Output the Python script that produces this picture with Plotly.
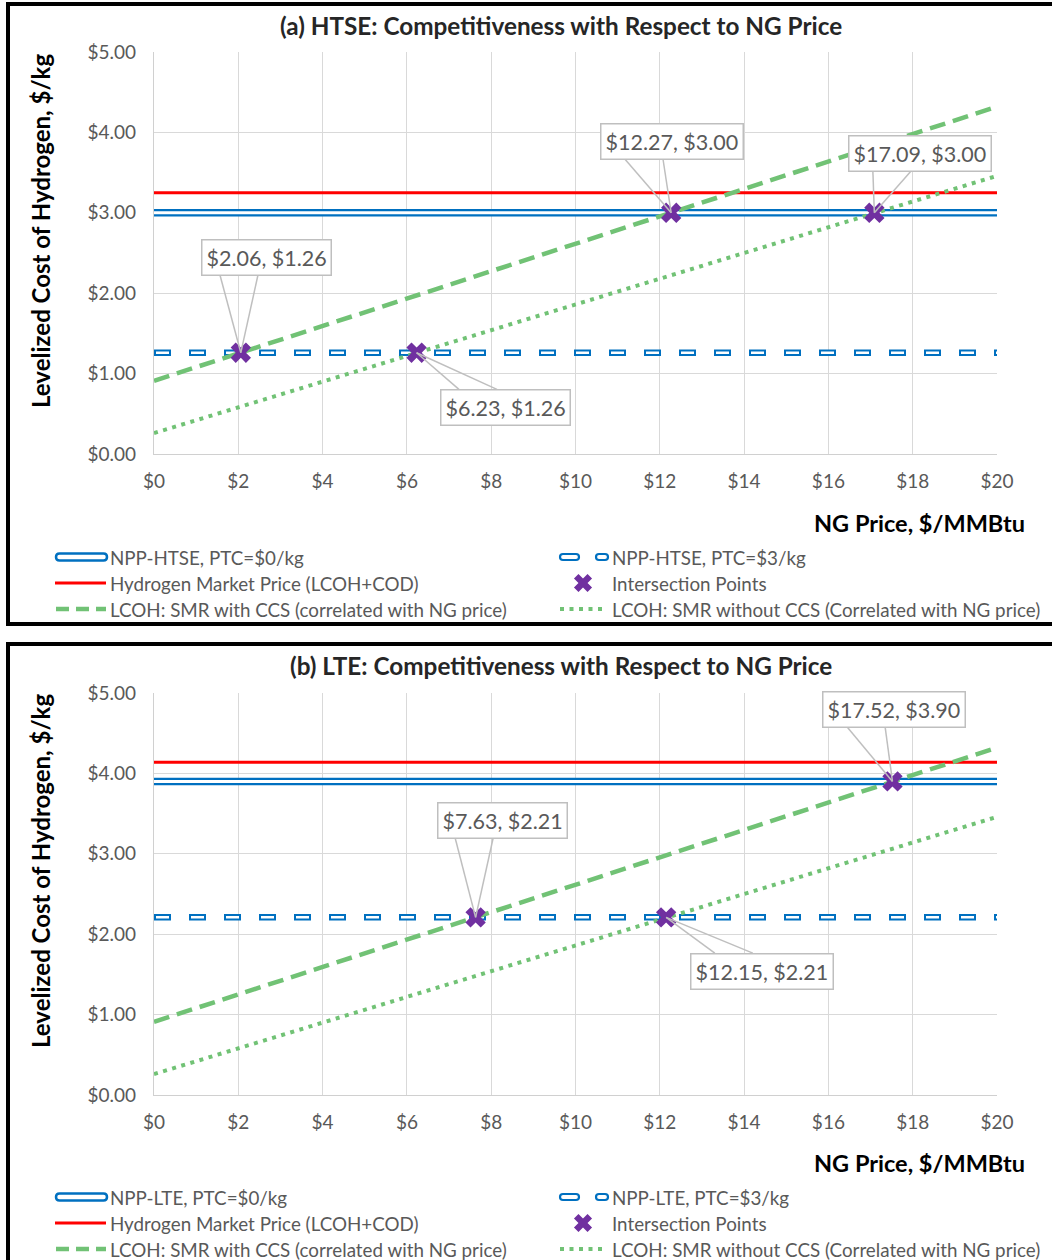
import plotly.graph_objects as go

# ---------------- data ----------------
ng_price_ends = [0, 20]                     # $/MMBtu, x-range of the SMR cost lines
smr_ccs_ends = [0.91, 4.32]                 # LCOH of SMR with CCS at $0 and $20 NG
smr_no_ccs_ends = [0.26, 3.46]              # LCOH of SMR without CCS at $0 and $20 NG

htse_ptc0 = 3.00
htse_ptc3 = 1.26
htse_market = 3.25
htse_cross_x = [2.06, 12.27, 17.09, 6.23]
htse_cross_y = [1.26, 3.00, 3.00, 1.26]
htse_label_x = [2.68, 12.29, 18.17, 8.35]
htse_label_y = [2.45, 3.89, 3.74, 0.58]

lte_ptc0 = 3.90
lte_ptc3 = 2.21
lte_market = 4.14
lte_cross_x = [7.63, 17.52, 12.15]
lte_cross_y = [2.21, 3.90, 2.21]
lte_label_x = [8.26, 17.56, 14.42]
lte_label_y = [3.42, 4.80, 1.54]

panel_titles = ["(a) HTSE: Competitiveness with Respect to NG Price",
                "(b) LTE: Competitiveness with Respect to NG Price"]
legend_left = [["NPP-HTSE, PTC=$0/kg", "Hydrogen Market Price (LCOH+COD)",
                "LCOH: SMR with CCS (correlated with NG price)"],
               ["NPP-LTE, PTC=$0/kg", "Hydrogen Market Price (LCOH+COD)",
                "LCOH: SMR with CCS (correlated with NG price)"]]
legend_right = [["NPP-HTSE, PTC=$3/kg", "Intersection Points",
                 "LCOH: SMR without CCS (Correlated with NG price)"],
                ["NPP-LTE, PTC=$3/kg", "Intersection Points",
                 "LCOH: SMR without CCS (Correlated with NG price)"]]

# ---------------- style ----------------
W, H = 1052, 1260
FONT = "Lato"
BLUE = "#0070C0"
RED = "#FF0000"
GREEN = "#71C275"
PURPLE = "#7030A0"
GREY_TXT = "#595959"
GRID = "#D9D9D9"
X_DOM = [154 / W, 997 / W]
Y_DOMS = [[1 - 454 / H, 1 - 52 / H], [1 - 1095 / H, 1 - 693 / H]]
PX_PER_X = (997 - 154) / 20
PX_PER_Y = (454 - 52) / 5
DASH_OUT = "17px,18px"            # outer blue dash of the PTC=$3 line
DASH_IN = "0px,2px,13px,20px"     # inner white dash, inset so each dash closes

fig = go.Figure()


def add_panel(idx, ptc0, ptc3, market, cx, cy, lx, ly):
    xa = "x" if idx == 0 else "x2"
    ya = "y" if idx == 0 else "y2"
    x_full = [0, 20]

    def line(xs, ys, color, width, dash="solid"):
        fig.add_trace(go.Scatter(x=xs, y=ys, mode="lines", xaxis=xa, yaxis=ya,
                                 line=dict(color=color, width=width, dash=dash),
                                 hoverinfo="skip", showlegend=False))

    # NPP with PTC = $0: double (outlined) blue line
    line(x_full, [ptc0, ptc0], BLUE, 7.5)
    line(x_full, [ptc0, ptc0], "white", 3)
    # NPP with PTC = $3: outlined dashed blue line
    line(x_full, [ptc3, ptc3], BLUE, 6.5, DASH_OUT)
    line(x_full, [ptc3, ptc3], "white", 2.5, DASH_IN)
    # market price
    line(x_full, [market, market], RED, 3)
    # SMR cost lines
    line(ng_price_ends, smr_ccs_ends, GREEN, 4.5, "16px,8px")
    line(ng_price_ends, smr_no_ccs_ends, GREEN, 4, "4px,5.5px")
    # intersection points
    fig.add_trace(go.Scatter(x=cx, y=cy, mode="markers", xaxis=xa, yaxis=ya,
                             marker=dict(symbol="x", size=18, color=PURPLE,
                                         line=dict(width=0)),
                             hoverinfo="skip", showlegend=False))

    # callouts: label box plus wedge pointing at the marker
    half_h = 18 / PX_PER_Y
    for px_, py_, lx_, ly_ in zip(cx, cy, lx, ly):
        fig.add_annotation(x=lx_, y=ly_, xref=xa, yref=ya, showarrow=False,
                           text=f"${px_:.2f}, ${py_:.2f}",
                           font=dict(family=FONT, size=21.5, color=GREY_TXT),
                           bgcolor="white", bordercolor="#BFBFBF", borderwidth=1.5,
                           borderpad=4)
        edge_y = ly_ - half_h if py_ < ly_ else ly_ + half_h
        base_c = lx_ - 28 / PX_PER_X
        for bx in (base_c - 19 / PX_PER_X, base_c + 19 / PX_PER_X):
            fig.add_shape(type="line", xref=xa, yref=ya, x0=bx, y0=edge_y,
                          x1=px_, y1=py_, line=dict(color="#BFBFBF", width=1.5),
                          layer="above")

    axis_common = dict(showgrid=True, gridcolor=GRID, gridwidth=1.3, zeroline=False,
                       showline=True, linecolor="#D0D0D0", linewidth=1.3,
                       tickfont=dict(family=FONT, size=19, color=GREY_TXT),
                       ticks="outside", tickcolor="rgba(0,0,0,0)", fixedrange=True,
                       automargin=False)
    fig.layout[("xaxis" if idx == 0 else "xaxis2")] = dict(
        domain=X_DOM, anchor=ya, range=[0, 20], dtick=2, tick0=0, tickprefix="$",
        ticklen=10, mirror=False, **axis_common)
    fig.layout[("yaxis" if idx == 0 else "yaxis2")] = dict(
        domain=Y_DOMS[idx], anchor=xa, range=[0, 5], dtick=1, tick0=0,
        tickprefix="$", tickformat=".2f", ticklen=13, **axis_common)


add_panel(0, htse_ptc0, htse_ptc3, htse_market, htse_cross_x, htse_cross_y,
          htse_label_x, htse_label_y)
add_panel(1, lte_ptc0, lte_ptc3, lte_market, lte_cross_x, lte_cross_y,
          lte_label_x, lte_label_y)

# overlay axis in page pixels for frames, titles and legend keys
fig.layout.xaxis3 = dict(domain=[0, 1], range=[0, W], visible=False, fixedrange=True,
                         anchor="y3", automargin=False)
fig.layout.yaxis3 = dict(domain=[0, 1], range=[H, 0], visible=False, fixedrange=True,
                         anchor="x3", automargin=False)


def key_line(x0, x1, y, color, width, dash="solid"):
    fig.add_trace(go.Scatter(x=[x0, x1], y=[y, y], mode="lines", xaxis="x3", yaxis="y3",
                             line=dict(color=color, width=width, dash=dash),
                             hoverinfo="skip", showlegend=False))


def capsule(x0, x1, y, h, lw):
    r = h / 2
    path = (f"M {x0 + r},{y - r} L {x1 - r},{y - r} Q {x1},{y - r} {x1},{y} "
            f"Q {x1},{y + r} {x1 - r},{y + r} L {x0 + r},{y + r} "
            f"Q {x0},{y + r} {x0},{y} Q {x0},{y - r} {x0 + r},{y - r} Z")
    fig.add_shape(type="path", xref="x3", yref="y3", path=path,
                  line=dict(color=BLUE, width=lw), fillcolor="white", layer="above")


for i, top in enumerate([0, 640]):
    # panel frame
    fig.add_shape(type="rect", xref="paper", yref="paper",
                  x0=8 / W, x1=1060 / W,
                  y0=1 - (624 if i == 0 else 1270) / H, y1=1 - (4 + top) / H,
                  line=dict(color="black", width=4), fillcolor="rgba(0,0,0,0)")
    # panel title
    fig.add_annotation(x=561, y=25 + top, xref="x3", yref="y3", showarrow=False,
                       text=f"<b>{panel_titles[i]}</b>",
                       font=dict(family=FONT, size=24.3, color="#262626"))
    # y-axis title
    fig.add_annotation(x=40, y=231 + top, xref="x3", yref="y3", showarrow=False,
                       textangle=-90, text="<b>Levelized Cost of Hydrogen, $/kg</b>",
                       font=dict(family=FONT, size=24, color="black"))
    # x-axis title
    fig.add_annotation(x=1027, y=523 + top, xref="x3", yref="y3", showarrow=False,
                       xanchor="right", text="<b>NG Price, $/MMBtu</b>",
                       font=dict(family=FONT, size=23.5, color="black"))

    rows = [557 + top, 583 + top, 609 + top]
    # legend keys, left column
    capsule(56, 107, rows[0], 7, 2.5)
    key_line(55, 106, rows[1], RED, 3)
    key_line(56, 106, rows[2], GREEN, 4.5, "13px,7px")
    # legend keys, right column
    capsule(560, 579, rows[0], 6, 2.2)
    capsule(596, 608, rows[0], 6, 2.2)
    fig.add_trace(go.Scatter(x=[583], y=[rows[1]], mode="markers", xaxis="x3", yaxis="y3",
                             marker=dict(symbol="x", size=16, color=PURPLE,
                                         line=dict(width=0)),
                             hoverinfo="skip", showlegend=False))
    key_line(560, 607, rows[2], GREEN, 4, "4px,5.5px")
    for r, txt in zip(rows, legend_left[i]):
        fig.add_annotation(x=108, y=r, xref="x3", yref="y3", showarrow=False,
                           xanchor="left", text=txt,
                           font=dict(family=FONT, size=18.8, color=GREY_TXT))
    for r, txt in zip(rows, legend_right[i]):
        fig.add_annotation(x=610, y=r, xref="x3", yref="y3", showarrow=False,
                           xanchor="left", text=txt,
                           font=dict(family=FONT, size=18.8, color=GREY_TXT))

fig.update_layout(width=W, height=H,
                  margin=dict(l=0, r=0, t=0, b=0, pad=0, autoexpand=False),
                  paper_bgcolor="white", plot_bgcolor="rgba(0,0,0,0)",
                  showlegend=False, font=dict(family=FONT))

fig.write_html("out.html", config={"displayModeBar": False, "responsive": False},
               post_script="document.body.style.margin='0';"
                           "document.body.style.overflow='hidden';")
